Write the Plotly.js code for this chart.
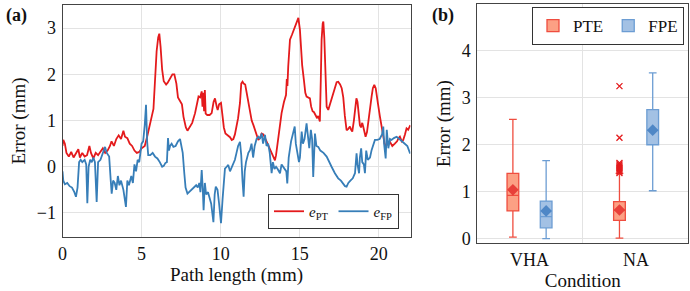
<!DOCTYPE html>
<html>
<head>
<meta charset="utf-8">
<script src="https://cdn.plot.ly/plotly-3.0.1.min.js"></script>
<style>html,body{margin:0;padding:0;background:#fff}#chart{width:690px;height:291px}</style>
</head>
<body>
<div id="chart"></div>
<script>
// ---------- Panel (a): error along path ----------
const ptX = [0.0,0.05,0.15,0.25,0.4,0.55,0.7,0.85,1.0,1.1,1.25,1.4,1.55,1.7,1.8,1.95,2.1,2.25,2.4,2.55,2.7,2.85,3.0,3.1,3.25,3.4,3.55,3.7,3.85,3.95,4.1,4.25,4.4,4.55,4.7,4.85,5.0,5.2,5.35,5.5,5.65,5.75,5.85,5.95,6.05,6.12,6.2,6.3,6.4,6.55,6.65,6.8,6.95,7.07,7.2,7.3,7.45,7.55,7.65,7.8,7.9,8.05,8.2,8.38,8.5,8.6,8.7,8.8,8.85,8.9,8.95,9.0,9.05,9.15,9.3,9.43,9.55,9.64,9.75,9.81,9.9,10.02,10.1,10.2,10.3,10.45,10.59,10.7,10.8,10.9,11.0,11.1,11.22,11.3,11.38,11.45,11.55,11.65,11.75,11.85,11.96,12.07,12.17,12.28,12.38,12.48,12.59,12.7,12.8,12.9,13.0,13.1,13.22,13.35,13.43,13.5,13.64,13.75,13.85,14.0,14.13,14.18,14.22,14.27,14.38,14.5,14.6,14.7,14.8,14.91,15.01,15.08,15.15,15.26,15.35,15.43,15.55,15.64,15.72,15.81,15.9,16.0,16.1,16.17,16.27,16.33,16.38,16.45,16.49,16.55,16.62,16.7,16.8,16.9,17.01,17.12,17.22,17.33,17.43,17.55,17.65,17.75,17.85,17.96,18.07,18.17,18.25,18.32,18.42,18.49,18.58,18.65,18.72,18.8,18.87,18.95,19.01,19.08,19.16,19.25,19.33,19.45,19.54,19.62,19.71,19.8,19.86,19.95,20.07,20.17,20.28,20.36,20.43,20.55,20.7,20.85,21.01,21.15,21.25,21.33,21.45,21.54,21.65,21.75,21.85,21.96,22.0];
const ptY = [0.45,0.58,0.5,0.3,0.22,0.32,0.2,0.28,0.38,0.2,0.3,0.22,0.25,0.45,0.3,0.18,0.3,0.25,0.32,0.4,0.3,0.35,0.45,0.55,0.45,0.6,0.68,0.6,0.78,0.65,0.62,0.5,0.45,0.35,0.3,0.32,0.4,0.45,0.65,0.85,1.1,1.25,1.9,2.5,2.8,2.88,2.6,2.1,1.85,1.78,1.82,1.9,2.0,2.0,1.8,1.5,1.4,1.35,1.08,0.85,0.78,0.87,0.95,1.16,1.35,1.52,1.5,1.63,1.3,1.6,1.2,1.66,1.15,1.12,1.12,1.16,1.4,1.48,1.3,1.23,1.35,1.38,1.15,0.85,0.72,0.68,0.64,0.58,0.6,0.7,0.85,1.05,1.38,1.8,1.84,1.8,1.78,1.6,1.45,1.2,1.0,0.9,0.8,0.7,0.58,0.62,0.72,0.7,0.62,0.55,0.47,0.38,0.28,0.17,0.14,0.25,0.58,0.9,1.16,1.4,1.55,1.9,1.75,2.17,2.75,2.85,2.95,3.0,3.11,3.22,2.96,2.6,2.2,1.88,1.6,1.52,1.5,1.48,1.3,1.2,1.18,1.12,1.05,1.1,0.98,1.9,2.75,3.1,3.14,2.8,2.0,1.3,1.23,1.35,1.45,1.62,1.74,1.83,1.84,1.78,1.7,1.5,1.1,0.79,0.82,0.87,0.8,0.76,1.0,1.2,1.48,1.4,1.2,0.9,0.85,0.95,0.87,0.75,0.65,0.75,1.0,1.35,1.52,1.7,1.77,1.7,1.59,1.35,1.08,0.87,0.61,0.5,0.43,0.5,0.54,0.45,0.5,0.55,0.62,0.65,0.55,0.58,0.7,0.83,0.8,0.88,0.87];

const fpX = [0.0,0.05,0.15,0.3,0.45,0.6,0.75,0.85,0.95,1.05,1.15,1.25,1.4,1.5,1.57,1.65,1.75,1.85,1.95,2.05,2.16,2.25,2.4,2.55,2.69,2.8,2.95,3.05,3.11,3.2,3.3,3.4,3.5,3.6,3.7,3.85,4.01,4.1,4.2,4.35,4.45,4.55,4.65,4.75,4.85,5.0,5.1,5.2,5.28,5.35,5.42,5.55,5.7,5.85,6.0,6.15,6.3,6.4,6.5,6.6,6.67,6.73,6.8,6.9,7.01,7.15,7.3,7.43,7.5,7.6,7.7,7.78,7.9,8.0,8.15,8.3,8.45,8.55,8.65,8.72,8.8,8.87,8.92,9.0,9.08,9.2,9.3,9.4,9.54,9.62,9.69,9.8,9.9,10.02,10.12,10.2,10.27,10.38,10.48,10.59,10.7,10.8,10.9,11.0,11.1,11.22,11.3,11.38,11.45,11.52,11.6,11.75,11.85,11.95,12.05,12.15,12.27,12.38,12.48,12.59,12.68,12.8,12.9,13.0,13.1,13.22,13.3,13.4,13.5,13.6,13.75,13.85,13.95,14.05,14.15,14.21,14.3,14.45,14.59,14.68,14.75,14.85,14.95,15.01,15.12,15.2,15.3,15.43,15.52,15.6,15.7,15.78,15.85,15.92,15.96,16.05,16.17,16.3,16.5,16.7,16.85,17.01,17.22,17.43,17.6,17.75,17.86,17.96,18.07,18.2,18.35,18.49,18.55,18.59,18.65,18.75,18.8,18.88,18.95,19.05,19.12,19.2,19.3,19.44,19.54,19.65,19.75,19.9,20.05,20.2,20.28,20.33,20.43,20.5,20.6,20.7,20.8,20.95,21.12,21.3,21.45,21.65,21.8,21.96,22.0];
const fpY = [-0.1,-0.3,-0.38,-0.35,-0.42,-0.45,-0.55,-0.65,-0.45,0.1,0.15,0.1,0.15,0.05,-0.79,0.0,0.15,0.1,0.2,0.1,-0.76,0.1,0.15,0.3,0.43,0.3,0.22,-0.3,-0.58,-0.3,-0.35,-0.5,-0.2,-0.4,-0.3,-0.5,-0.87,-0.3,-0.4,-0.2,-0.35,0.05,-0.1,0.15,0.1,0.5,0.55,0.9,1.34,0.55,0.25,0.25,0.3,0.22,0.18,0.1,0.0,0.02,0.08,0.1,0.62,0.35,0.45,0.5,0.43,0.45,0.55,0.6,0.5,0.3,-0.14,-0.45,-0.58,-0.55,-0.5,-0.45,-0.4,-0.45,-0.35,-0.55,-0.07,-0.5,-0.94,-0.35,-0.6,-0.55,-0.7,-0.8,-1.2,-0.6,-0.43,-0.5,-0.8,-1.22,-0.7,-0.2,-0.04,0.0,0.04,-0.1,0.0,0.1,0.15,0.3,0.45,0.54,0.25,-0.3,-0.65,-0.1,0.1,0.3,0.36,0.5,0.2,0.45,0.6,0.65,0.6,0.72,0.5,0.69,0.45,0.5,0.3,-0.14,0.1,-0.05,0.0,-0.05,-0.14,0.05,0.0,-0.05,-0.1,-0.36,0.2,0.55,0.72,0.87,0.5,0.3,0.1,0.2,0.76,0.5,0.6,0.94,0.6,0.4,0.8,0.6,-0.22,0.3,0.72,0.45,0.43,0.35,0.3,0.22,0.1,0.0,-0.14,-0.25,-0.3,-0.36,-0.42,-0.43,-0.35,-0.3,-0.25,-0.14,0.1,0.29,0.05,-0.14,0.2,0.4,0.1,0.05,-0.14,0.35,0.15,0.2,0.36,0.5,0.58,0.58,0.6,0.7,0.87,0.5,0.18,0.8,0.4,0.6,0.58,0.62,0.65,0.6,0.55,0.5,0.45,0.3,0.3];

const xTicksA = [0, 5, 10, 15, 20];
const yTicksA = [-1, 0, 1, 2, 3];

// ---------- Panel (b): box plots ----------
const conditions = ['VHA', 'NA'];
const pteQ1 = [0.59, 0.39];
const pteMedian = [0.92, 0.60];
const pteQ3 = [1.39, 0.79];
const pteLow = [0.03, 0.01];
const pteHigh = [2.54, 1.39];
const pteMean = [1.04, 0.61];
const fpeQ1 = [0.23, 2.00];
const fpeMedian = [0.47, 2.31];
const fpeQ3 = [0.80, 2.75];
const fpeLow = [0.00, 1.02];
const fpeHigh = [1.66, 3.53];
const fpeMean = [0.59, 2.31];
const pteOutliersNA = [1.40, 1.43, 1.46, 1.49, 1.52, 1.55, 1.58, 1.61, 2.15, 3.25];
const yTicksB = [0, 1, 2, 3, 4];

// ---------- styling ----------
const RED = '#e41a1c', BLUE = '#377eb8';
const pteLine = '#ef4d3f', pteFill = '#fca084';
const fpeLine = '#6c9dd3', fpeFill = '#a3c1e4';
const FONT = '"Liberation Serif", "Times New Roman", serif';
const TXT = '#111';
const off = 0.156, bw = 0.11;
const catIdx = conditions.map((c, i) => i);

const traces = [
  {x: ptX, y: ptY, type: 'scatter', mode: 'lines', name: '<i>e</i><sub>PT</sub>',
   line: {color: RED, width: 1.8}, xaxis: 'x', yaxis: 'y', legend: 'legend'},
  {x: fpX, y: fpY, type: 'scatter', mode: 'lines', name: '<i>e</i><sub>FP</sub>',
   line: {color: BLUE, width: 1.8}, xaxis: 'x', yaxis: 'y', legend: 'legend'},
  {type: 'box', name: 'PTE', x: catIdx.map(i => i - off), q1: pteQ1, median: pteMedian, q3: pteQ3,
   lowerfence: pteLow, upperfence: pteHigh, width: bw, whiskerwidth: 0.66,
   line: {color: pteLine, width: 1.3}, fillcolor: pteFill, xaxis: 'x2', yaxis: 'y2', legend: 'legend2', hoverinfo: 'skip'},
  {type: 'box', name: 'FPE', x: catIdx.map(i => i + off), q1: fpeQ1, median: fpeMedian, q3: fpeQ3,
   lowerfence: fpeLow, upperfence: fpeHigh, width: bw, whiskerwidth: 0.66,
   line: {color: fpeLine, width: 1.3}, fillcolor: fpeFill, xaxis: 'x2', yaxis: 'y2', legend: 'legend2', hoverinfo: 'skip'},
  {type: 'scatter', mode: 'markers', x: catIdx.map(i => i - off), y: pteMean, showlegend: false,
   marker: {symbol: 'diamond', size: 9, color: '#e8403a', line: {width: 0}}, xaxis: 'x2', yaxis: 'y2'},
  {type: 'scatter', mode: 'markers', x: catIdx.map(i => i + off), y: fpeMean, showlegend: false,
   marker: {symbol: 'diamond', size: 9, color: '#4f87c6', line: {width: 0}}, xaxis: 'x2', yaxis: 'y2'},
  {type: 'scatter', mode: 'markers', x: pteOutliersNA.map(() => 1 - off), y: pteOutliersNA, showlegend: false,
   marker: {symbol: 'x-thin', size: 6, color: RED, line: {color: RED, width: 1.3}}, xaxis: 'x2', yaxis: 'y2'}
];

const W = 690, H = 291;
const axisCommon = {
  showline: true, mirror: true, linecolor: '#444', linewidth: 1,
  gridcolor: '#e3e3e3', gridwidth: 1, zeroline: false, ticks: '',
  tickfont: {family: FONT, size: 18, color: TXT}
};
const titleFont = {family: FONT, size: 19, color: TXT};

const layout = {
  width: W, height: H, margin: {l: 0, r: 0, t: 0, b: 0},
  paper_bgcolor: '#fff', plot_bgcolor: '#fff',
  font: {family: FONT, color: TXT, size: 18},
  showlegend: true,
  xaxis: Object.assign({}, axisCommon, {
    domain: [62.5 / W, 410.5 / W], range: [0, 22], tickvals: xTicksA, anchor: 'y',
    ticklabelstandoff: 0,
    title: {text: 'Path length (mm)', font: titleFont, standoff: 4}
  }),
  yaxis: Object.assign({}, axisCommon, {
    domain: [(H - 237) / H, (H - 5) / H], range: [-1.52, 3.5], tickvals: yTicksA, anchor: 'x',
    ticklabelstandoff: 2,
    title: {text: 'Error (mm)', font: titleFont, standoff: 6}
  }),
  xaxis2: Object.assign({}, axisCommon, {
    domain: [477.3 / W, 688.3 / W], range: [-0.49, 1.49], tickvals: catIdx, ticktext: conditions,
    showgrid: false, anchor: 'y2', ticklabelstandoff: 0,
    minor: {tickvals: [0.5], showgrid: true, gridcolor: '#e3e3e3', gridwidth: 1, ticks: ''},
    title: {text: 'Condition', font: titleFont, standoff: 4}
  }),
  yaxis2: Object.assign({}, axisCommon, {
    domain: [(H - 243.3) / H, (H - 4) / H], range: [-0.1, 5], tickvals: yTicksB, anchor: 'x2',
    ticklabelstandoff: 2,
    title: {text: 'Error (mm)', font: titleFont, standoff: 6}
  }),
  legend: {
    orientation: 'h', x: 399 / W, y: (H - 229) / H, xanchor: 'right', yanchor: 'bottom',
    bgcolor: '#fff', bordercolor: '#333', borderwidth: 1,
    font: {family: FONT, size: 15, color: TXT}, itemwidth: 30, tracegroupgap: 0
  },
  legend2: {
    orientation: 'h', x: 684 / W, y: (H - 7) / H, xanchor: 'right', yanchor: 'top',
    bgcolor: '#fff', bordercolor: '#333', borderwidth: 1,
    font: {family: FONT, size: 17, color: TXT}, itemwidth: 30
  },
  annotations: [
    {text: '<b>(a)</b>', xref: 'paper', yref: 'paper', x: 4 / W, y: (H - 3) / H, xanchor: 'left', yanchor: 'top',
     showarrow: false, font: {family: FONT, size: 18, color: TXT}},
    {text: '<b>(b)</b>', xref: 'paper', yref: 'paper', x: 430 / W, y: (H - 3) / H, xanchor: 'left', yanchor: 'top',
     showarrow: false, font: {family: FONT, size: 18, color: TXT}}
  ]
};

Plotly.newPlot('chart', traces, layout, {staticPlot: true, displayModeBar: false});
</script>
</body>
</html>
